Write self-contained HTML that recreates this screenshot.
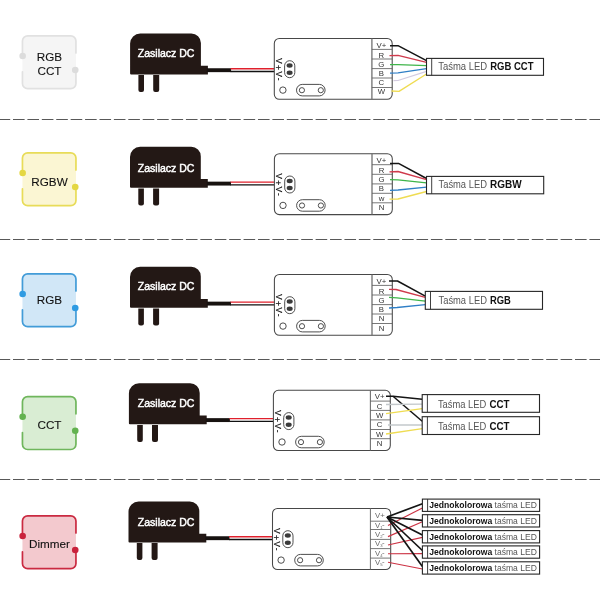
<!DOCTYPE html>
<html><head><meta charset="utf-8"><title>LED controller wiring</title>
<style>html,body{margin:0;padding:0;background:#fff;}svg{display:block;will-change:transform;font-family:'Liberation Sans', sans-serif;}</style>
</head><body>
<svg width="600" height="600" viewBox="0 0 600 600" font-family='"Liberation Sans", sans-serif'>
<rect width="600" height="600" fill="#fff"/>
<line x1="-1.4" y1="119.5" x2="601" y2="119.5" stroke="#585858" stroke-width="1.15" stroke-dasharray="11.6 2.81"/>
<line x1="-1.4" y1="239.5" x2="601" y2="239.5" stroke="#585858" stroke-width="1.15" stroke-dasharray="11.6 2.81"/>
<line x1="-1.4" y1="359.5" x2="601" y2="359.5" stroke="#585858" stroke-width="1.15" stroke-dasharray="11.6 2.81"/>
<line x1="-1.4" y1="479.5" x2="601" y2="479.5" stroke="#585858" stroke-width="1.15" stroke-dasharray="11.6 2.81"/>
<rect x="22.45" y="35.8" width="53.5" height="52.9" rx="5.2" fill="#f5f5f5"/>
<path d="M22.45 56.0 V41.0 A5.2 5.2 0 0 1 27.65 35.8 H70.75 A5.2 5.2 0 0 1 75.95 41.0 V53.0" fill="none" stroke="#e1e1e1" stroke-width="1.7" stroke-linecap="round"/>
<path d="M75.95 70.0 V83.5 A5.2 5.2 0 0 1 70.75 88.7 H27.65 A5.2 5.2 0 0 1 22.45 83.5 V71.8" fill="none" stroke="#e1e1e1" stroke-width="1.7" stroke-linecap="round"/>
<circle cx="22.65" cy="56.0" r="3.3" fill="#dcdcdc"/>
<circle cx="75.25" cy="70.0" r="3.3" fill="#dcdcdc"/>
<text x="49.5" y="60.8" font-size="11.7" text-anchor="middle" fill="#111" stroke="#111" stroke-width="0.1">RGB</text>
<text x="49.5" y="74.9" font-size="11.7" text-anchor="middle" fill="#111" stroke="#111" stroke-width="0.1">CCT</text>
<path d="M130.1 73.4 V43.6 A10.2 10.2 0 0 1 140.3 33.4 H191.3 A9.6 9.6 0 0 1 200.9 43.0 V65.7 H207.9 V74.4 H131.1 A1 1 0 0 1 130.1 73.4 Z" fill="#231815"/>
<path d="M138.4 75.1 V90.0 a2 2 0 0 0 2 2 h1.6 a2 2 0 0 0 2 -2 V75.1 Z" fill="#231815"/>
<path d="M153.2 75.1 V90.0 a2 2 0 0 0 2 2 h2 a2 2 0 0 0 2 -2 V75.1 Z" fill="#231815"/>
<rect x="206.9" y="68.25" width="24.2" height="3.9" fill="#171210"/>
<line x1="230.6" y1="68.75" x2="274.3" y2="68.75" stroke="#e0202c" stroke-width="1.3"/>
<line x1="230.6" y1="71.5" x2="274.3" y2="71.5" stroke="#111" stroke-width="1.4"/>
<text x="137.8" y="57.0" font-size="10.4" fill="#fff" stroke="#fff" stroke-width="0.45" textLength="56.6" lengthAdjust="spacingAndGlyphs">Zasilacz DC</text>
<rect x="274.3" y="38.4" width="117.9" height="60.9" rx="5.0" fill="#fff" stroke="#484848" stroke-width="1.05"/>
<line x1="371.9" y1="38.4" x2="371.9" y2="99.3" stroke="#707070" stroke-width="1.3"/>
<line x1="371.9" y1="49.4" x2="392.2" y2="49.4" stroke="#606060" stroke-width="0.85"/>
<line x1="371.9" y1="59.0" x2="392.2" y2="59.0" stroke="#606060" stroke-width="0.85"/>
<line x1="371.9" y1="68.6" x2="392.2" y2="68.6" stroke="#606060" stroke-width="0.85"/>
<line x1="371.9" y1="78.0" x2="392.2" y2="78.0" stroke="#606060" stroke-width="0.85"/>
<line x1="371.9" y1="87.5" x2="392.2" y2="87.5" stroke="#606060" stroke-width="0.85"/>
<text x="381.35" y="47.6" font-size="7.8" text-anchor="middle" fill="#333">V+</text>
<text x="381.35" y="57.6" font-size="7.8" text-anchor="middle" fill="#333">R</text>
<text x="381.35" y="66.7" font-size="7.8" text-anchor="middle" fill="#333">G</text>
<text x="381.35" y="75.8" font-size="7.8" text-anchor="middle" fill="#333">B</text>
<text x="381.35" y="85.3" font-size="7.8" text-anchor="middle" fill="#333">C</text>
<text x="381.35" y="94.2" font-size="7.8" text-anchor="middle" fill="#333">W</text>
<text transform="translate(276.0 58.0) rotate(90)" font-size="8.6" letter-spacing="1.25" fill="#111" stroke="#111" stroke-width="0.2">V<tspan dy="1">+</tspan><tspan dy="-1">V</tspan>-</text>
<rect x="284.6" y="60.7" width="10.2" height="17" rx="5.1" fill="#fff" stroke="#3a3a3a" stroke-width="0.9"/>
<ellipse cx="289.6" cy="65.6" rx="3.0" ry="2.25" fill="#3a3a3a"/>
<ellipse cx="289.6" cy="72.8" rx="3.0" ry="2.25" fill="#3a3a3a"/>
<circle cx="282.9" cy="90.1" r="3.2" fill="#fff" stroke="#3a3a3a" stroke-width="0.9"/>
<rect x="296.5" y="84.4" width="28.6" height="11.5" rx="5.75" fill="#fff" stroke="#3a3a3a" stroke-width="0.9"/>
<circle cx="301.9" cy="90.2" r="2.6" fill="#fff" stroke="#3a3a3a" stroke-width="0.9"/>
<circle cx="320.8" cy="90.2" r="2.6" fill="#fff" stroke="#3a3a3a" stroke-width="0.9"/>
<path d="M390 45.7 L398 45.7 L426.5 60.7" fill="none" stroke="#141414" stroke-width="1.5" stroke-linejoin="round"/>
<path d="M389.5 55.6 L398 55.4 L426.5 62.3" fill="none" stroke="#cf3a4c" stroke-width="1.35" stroke-linejoin="round"/>
<path d="M390 64.6 L398 64.7 L426.5 65.6" fill="none" stroke="#3fb54a" stroke-width="1.35" stroke-linejoin="round"/>
<path d="M390 73.1 L398 72.8 L426.5 68.7" fill="none" stroke="#2f7fc6" stroke-width="1.35" stroke-linejoin="round"/>
<path d="M393.5 80.6 L398 80.5 L426.5 71.4" fill="none" stroke="#d3cbe0" stroke-width="1.2" stroke-linejoin="round"/>
<path d="M391.5 91.0 L399 91.4 L426.5 74.0" fill="none" stroke="#efdc52" stroke-width="1.35" stroke-linejoin="round"/>
<rect x="426.5" y="58.4" width="117.0" height="16.9" fill="#fff" stroke="#262626" stroke-width="1.1"/>
<line x1="431.7" y1="58.4" x2="431.7" y2="75.3" stroke="#2a2a2a" stroke-width="0.9"/>
<text x="438.2" y="69.9" font-size="10.0" fill="#555" textLength="49.0" lengthAdjust="spacingAndGlyphs">Taśma LED</text>
<text x="490.2" y="69.9" font-size="10.0" font-weight="bold" fill="#111" textLength="43.3" lengthAdjust="spacingAndGlyphs">RGB CCT</text>
<rect x="22.45" y="152.8" width="53.5" height="52.9" rx="5.2" fill="#fbf6d3"/>
<path d="M22.45 173.0 V158.0 A5.2 5.2 0 0 1 27.65 152.8 H70.75 A5.2 5.2 0 0 1 75.95 158.0 V170.0" fill="none" stroke="#e8dc58" stroke-width="1.7" stroke-linecap="round"/>
<path d="M75.95 187.0 V200.5 A5.2 5.2 0 0 1 70.75 205.7 H27.65 A5.2 5.2 0 0 1 22.45 200.5 V188.8" fill="none" stroke="#e8dc58" stroke-width="1.7" stroke-linecap="round"/>
<circle cx="22.65" cy="173.0" r="3.3" fill="#e4d742"/>
<circle cx="75.25" cy="187.0" r="3.3" fill="#e4d742"/>
<text x="49.5" y="186.3" font-size="11.7" text-anchor="middle" fill="#111" stroke="#111" stroke-width="0.1">RGBW</text>
<path d="M130.0 186.8 V157.0 A10.2 10.2 0 0 1 140.2 146.8 H191.2 A9.6 9.6 0 0 1 200.8 156.4 V179.1 H207.8 V187.8 H131.0 A1 1 0 0 1 130.0 186.8 Z" fill="#231815"/>
<path d="M138.3 188.5 V203.4 a2 2 0 0 0 2 2 h1.6 a2 2 0 0 0 2 -2 V188.5 Z" fill="#231815"/>
<path d="M153.1 188.5 V203.4 a2 2 0 0 0 2 2 h2 a2 2 0 0 0 2 -2 V188.5 Z" fill="#231815"/>
<rect x="206.8" y="181.65" width="24.2" height="3.9" fill="#171210"/>
<line x1="230.5" y1="182.15" x2="274.4" y2="182.15" stroke="#e0202c" stroke-width="1.3"/>
<line x1="230.5" y1="184.9" x2="274.4" y2="184.9" stroke="#111" stroke-width="1.4"/>
<text x="137.8" y="172.1" font-size="10.4" fill="#fff" stroke="#fff" stroke-width="0.45" textLength="56.6" lengthAdjust="spacingAndGlyphs">Zasilacz DC</text>
<rect x="274.4" y="153.7" width="117.9" height="60.9" rx="5.0" fill="#fff" stroke="#484848" stroke-width="1.05"/>
<line x1="372" y1="153.7" x2="372" y2="214.6" stroke="#707070" stroke-width="1.3"/>
<line x1="372" y1="164.7" x2="392.3" y2="164.7" stroke="#606060" stroke-width="0.85"/>
<line x1="372" y1="174.3" x2="392.3" y2="174.3" stroke="#606060" stroke-width="0.85"/>
<line x1="372" y1="183.9" x2="392.3" y2="183.9" stroke="#606060" stroke-width="0.85"/>
<line x1="372" y1="193.3" x2="392.3" y2="193.3" stroke="#606060" stroke-width="0.85"/>
<line x1="372" y1="202.8" x2="392.3" y2="202.8" stroke="#606060" stroke-width="0.85"/>
<text x="381.45" y="162.9" font-size="7.8" text-anchor="middle" fill="#333">V+</text>
<text x="381.45" y="172.9" font-size="7.8" text-anchor="middle" fill="#333">R</text>
<text x="381.45" y="182.0" font-size="7.8" text-anchor="middle" fill="#333">G</text>
<text x="381.45" y="190.9" font-size="7.8" text-anchor="middle" fill="#333">B</text>
<text x="381.45" y="200.5" font-size="7.8" text-anchor="middle" fill="#333">w</text>
<text x="381.45" y="210.3" font-size="7.8" text-anchor="middle" fill="#333">N</text>
<text transform="translate(276.1 173.3) rotate(90)" font-size="8.6" letter-spacing="1.25" fill="#111" stroke="#111" stroke-width="0.2">V<tspan dy="1">+</tspan><tspan dy="-1">V</tspan>-</text>
<rect x="284.7" y="176.0" width="10.2" height="17" rx="5.1" fill="#fff" stroke="#3a3a3a" stroke-width="0.9"/>
<ellipse cx="289.7" cy="180.9" rx="3.0" ry="2.25" fill="#3a3a3a"/>
<ellipse cx="289.7" cy="188.1" rx="3.0" ry="2.25" fill="#3a3a3a"/>
<circle cx="283.0" cy="205.4" r="3.2" fill="#fff" stroke="#3a3a3a" stroke-width="0.9"/>
<rect x="296.6" y="199.7" width="28.6" height="11.5" rx="5.75" fill="#fff" stroke="#3a3a3a" stroke-width="0.9"/>
<circle cx="302.0" cy="205.5" r="2.6" fill="#fff" stroke="#3a3a3a" stroke-width="0.9"/>
<circle cx="320.9" cy="205.5" r="2.6" fill="#fff" stroke="#3a3a3a" stroke-width="0.9"/>
<path d="M390 163.4 L398.5 163.4 L426.5 178.5" fill="none" stroke="#141414" stroke-width="1.5" stroke-linejoin="round"/>
<path d="M389.5 171.8 L398 171.5 L426.5 179.6" fill="none" stroke="#cf3a4c" stroke-width="1.35" stroke-linejoin="round"/>
<path d="M390 179.6 L398 179.8 L426.5 182.8" fill="none" stroke="#3fb54a" stroke-width="1.35" stroke-linejoin="round"/>
<path d="M390 190.3 L398 190.0 L426.5 187.2" fill="none" stroke="#2f7fc6" stroke-width="1.35" stroke-linejoin="round"/>
<path d="M389.5 199.2 L398 199.0 L426.5 191.5" fill="none" stroke="#efdc52" stroke-width="1.35" stroke-linejoin="round"/>
<rect x="426.5" y="176.4" width="117.2" height="17.4" fill="#fff" stroke="#262626" stroke-width="1.1"/>
<line x1="431.7" y1="176.4" x2="431.7" y2="193.8" stroke="#2a2a2a" stroke-width="0.9"/>
<text x="438.5" y="188.3" font-size="10.0" fill="#555" textLength="48.4" lengthAdjust="spacingAndGlyphs">Taśma LED</text>
<text x="490.0" y="188.3" font-size="10.0" font-weight="bold" fill="#111" textLength="31.6" lengthAdjust="spacingAndGlyphs">RGBW</text>
<rect x="22.45" y="273.8" width="53.5" height="52.9" rx="5.2" fill="#d1e7f7"/>
<path d="M22.45 294.0 V279.0 A5.2 5.2 0 0 1 27.65 273.8 H70.75 A5.2 5.2 0 0 1 75.95 279.0 V291.0" fill="none" stroke="#429cd8" stroke-width="1.7" stroke-linecap="round"/>
<path d="M75.95 308.0 V321.5 A5.2 5.2 0 0 1 70.75 326.7 H27.65 A5.2 5.2 0 0 1 22.45 321.5 V309.8" fill="none" stroke="#429cd8" stroke-width="1.7" stroke-linecap="round"/>
<circle cx="22.65" cy="294.0" r="3.3" fill="#2f9be2"/>
<circle cx="75.25" cy="308.0" r="3.3" fill="#2f9be2"/>
<text x="49.5" y="304.2" font-size="11.7" text-anchor="middle" fill="#111" stroke="#111" stroke-width="0.1">RGB</text>
<path d="M130.0 306.8 V277.0 A10.2 10.2 0 0 1 140.2 266.8 H191.2 A9.6 9.6 0 0 1 200.8 276.4 V299.1 H207.8 V307.8 H131.0 A1 1 0 0 1 130.0 306.8 Z" fill="#231815"/>
<path d="M138.3 308.5 V323.4 a2 2 0 0 0 2 2 h1.6 a2 2 0 0 0 2 -2 V308.5 Z" fill="#231815"/>
<path d="M153.1 308.5 V323.4 a2 2 0 0 0 2 2 h2 a2 2 0 0 0 2 -2 V308.5 Z" fill="#231815"/>
<rect x="206.8" y="301.65" width="24.2" height="3.9" fill="#171210"/>
<line x1="230.5" y1="302.15" x2="277.5" y2="302.15" stroke="#e0202c" stroke-width="1.3"/>
<line x1="230.5" y1="304.9" x2="277.5" y2="304.9" stroke="#111" stroke-width="1.4"/>
<text x="137.8" y="290.2" font-size="10.4" fill="#fff" stroke="#fff" stroke-width="0.45" textLength="56.6" lengthAdjust="spacingAndGlyphs">Zasilacz DC</text>
<rect x="274.4" y="274.4" width="117.9" height="60.9" rx="5.0" fill="#fff" stroke="#484848" stroke-width="1.05"/>
<line x1="372" y1="274.4" x2="372" y2="335.3" stroke="#707070" stroke-width="1.3"/>
<line x1="372" y1="285.4" x2="392.3" y2="285.4" stroke="#606060" stroke-width="0.85"/>
<line x1="372" y1="295.0" x2="392.3" y2="295.0" stroke="#606060" stroke-width="0.85"/>
<line x1="372" y1="304.6" x2="392.3" y2="304.6" stroke="#606060" stroke-width="0.85"/>
<line x1="372" y1="314.0" x2="392.3" y2="314.0" stroke="#606060" stroke-width="0.85"/>
<line x1="372" y1="323.5" x2="392.3" y2="323.5" stroke="#606060" stroke-width="0.85"/>
<text x="381.45" y="283.6" font-size="7.8" text-anchor="middle" fill="#333">V+</text>
<text x="381.45" y="293.6" font-size="7.8" text-anchor="middle" fill="#333">R</text>
<text x="381.45" y="302.7" font-size="7.8" text-anchor="middle" fill="#333">G</text>
<text x="381.45" y="311.6" font-size="7.8" text-anchor="middle" fill="#333">B</text>
<text x="381.45" y="321.2" font-size="7.8" text-anchor="middle" fill="#333">N</text>
<text x="381.45" y="330.6" font-size="7.8" text-anchor="middle" fill="#333">N</text>
<text transform="translate(276.1 294.0) rotate(90)" font-size="8.6" letter-spacing="1.25" fill="#111" stroke="#111" stroke-width="0.2">V<tspan dy="1">+</tspan><tspan dy="-1">V</tspan>-</text>
<rect x="284.7" y="296.7" width="10.2" height="17" rx="5.1" fill="#fff" stroke="#3a3a3a" stroke-width="0.9"/>
<ellipse cx="289.7" cy="301.6" rx="3.0" ry="2.25" fill="#3a3a3a"/>
<ellipse cx="289.7" cy="308.8" rx="3.0" ry="2.25" fill="#3a3a3a"/>
<circle cx="283.0" cy="326.1" r="3.2" fill="#fff" stroke="#3a3a3a" stroke-width="0.9"/>
<rect x="296.6" y="320.4" width="28.6" height="11.5" rx="5.75" fill="#fff" stroke="#3a3a3a" stroke-width="0.9"/>
<circle cx="302.0" cy="326.2" r="2.6" fill="#fff" stroke="#3a3a3a" stroke-width="0.9"/>
<circle cx="320.9" cy="326.2" r="2.6" fill="#fff" stroke="#3a3a3a" stroke-width="0.9"/>
<path d="M389 281.0 L397.5 281.0 L425.3 296.1" fill="none" stroke="#141414" stroke-width="1.5" stroke-linejoin="round"/>
<path d="M389 289.4 L396 289.5 L425.3 297.4" fill="none" stroke="#cf3a4c" stroke-width="1.35" stroke-linejoin="round"/>
<path d="M389 297.3 L397 297.8 L425.3 301.1" fill="none" stroke="#3fb54a" stroke-width="1.35" stroke-linejoin="round"/>
<path d="M389 308.0 L397 307.5 L425.3 304.7" fill="none" stroke="#2f7fc6" stroke-width="1.35" stroke-linejoin="round"/>
<rect x="425.3" y="291.4" width="117.2" height="17.9" fill="#fff" stroke="#262626" stroke-width="1.1"/>
<line x1="430.5" y1="291.4" x2="430.5" y2="309.3" stroke="#2a2a2a" stroke-width="0.9"/>
<text x="438.5" y="303.8" font-size="10.0" fill="#555" textLength="48.4" lengthAdjust="spacingAndGlyphs">Taśma LED</text>
<text x="490.0" y="303.8" font-size="10.0" font-weight="bold" fill="#111" textLength="20.9" lengthAdjust="spacingAndGlyphs">RGB</text>
<rect x="22.45" y="396.6" width="53.5" height="52.9" rx="5.2" fill="#d9edd3"/>
<path d="M22.45 416.8 V401.8 A5.2 5.2 0 0 1 27.65 396.6 H70.75 A5.2 5.2 0 0 1 75.95 401.8 V413.8" fill="none" stroke="#6fb65c" stroke-width="1.7" stroke-linecap="round"/>
<path d="M75.95 430.8 V444.3 A5.2 5.2 0 0 1 70.75 449.5 H27.65 A5.2 5.2 0 0 1 22.45 444.3 V432.6" fill="none" stroke="#6fb65c" stroke-width="1.7" stroke-linecap="round"/>
<circle cx="22.65" cy="416.8" r="3.3" fill="#63b250"/>
<circle cx="75.25" cy="430.8" r="3.3" fill="#63b250"/>
<text x="49.5" y="428.5" font-size="11.7" text-anchor="middle" fill="#111" stroke="#111" stroke-width="0.1">CCT</text>
<path d="M128.9 423.3 V393.5 A10.2 10.2 0 0 1 139.1 383.3 H190.1 A9.6 9.6 0 0 1 199.7 392.9 V415.6 H206.7 V424.3 H129.9 A1 1 0 0 1 128.9 423.3 Z" fill="#231815"/>
<path d="M137.2 425.0 V439.9 a2 2 0 0 0 2 2 h1.6 a2 2 0 0 0 2 -2 V425.0 Z" fill="#231815"/>
<path d="M152.0 425.0 V439.9 a2 2 0 0 0 2 2 h2 a2 2 0 0 0 2 -2 V425.0 Z" fill="#231815"/>
<rect x="205.7" y="418.15" width="24.2" height="3.9" fill="#171210"/>
<line x1="229.4" y1="418.65" x2="273.0" y2="418.65" stroke="#e0202c" stroke-width="1.3"/>
<line x1="229.4" y1="421.4" x2="273.0" y2="421.4" stroke="#111" stroke-width="1.4"/>
<text x="137.8" y="407.4" font-size="10.4" fill="#fff" stroke="#fff" stroke-width="0.45" textLength="56.6" lengthAdjust="spacingAndGlyphs">Zasilacz DC</text>
<rect x="273.4" y="390.3" width="116.9" height="60.2" rx="5.0" fill="#fff" stroke="#484848" stroke-width="1.05"/>
<line x1="370.4" y1="390.3" x2="370.4" y2="450.5" stroke="#707070" stroke-width="1.1"/>
<line x1="370.4" y1="401.1" x2="390.3" y2="401.1" stroke="#606060" stroke-width="0.85"/>
<line x1="370.4" y1="410.4" x2="390.3" y2="410.4" stroke="#606060" stroke-width="0.85"/>
<line x1="370.4" y1="419.9" x2="390.3" y2="419.9" stroke="#606060" stroke-width="0.85"/>
<line x1="370.4" y1="429.5" x2="390.3" y2="429.5" stroke="#606060" stroke-width="0.85"/>
<line x1="370.4" y1="438.7" x2="390.3" y2="438.7" stroke="#606060" stroke-width="0.85"/>
<text x="379.65" y="398.9" font-size="7.8" text-anchor="middle" fill="#333">V+</text>
<text x="379.65" y="408.8" font-size="7.8" text-anchor="middle" fill="#333">C</text>
<text x="379.65" y="417.8" font-size="7.8" text-anchor="middle" fill="#333">W</text>
<text x="379.65" y="427.0" font-size="7.8" text-anchor="middle" fill="#333">C</text>
<text x="379.65" y="436.7" font-size="7.8" text-anchor="middle" fill="#333">W</text>
<text x="379.65" y="446.4" font-size="7.8" text-anchor="middle" fill="#333">N</text>
<text transform="translate(275.1 409.9) rotate(90)" font-size="8.6" letter-spacing="1.25" fill="#111" stroke="#111" stroke-width="0.2">V<tspan dy="1">+</tspan><tspan dy="-1">V</tspan>-</text>
<rect x="283.7" y="412.6" width="10.2" height="17" rx="5.1" fill="#fff" stroke="#3a3a3a" stroke-width="0.9"/>
<ellipse cx="288.7" cy="417.5" rx="3.0" ry="2.25" fill="#3a3a3a"/>
<ellipse cx="288.7" cy="424.7" rx="3.0" ry="2.25" fill="#3a3a3a"/>
<circle cx="282.0" cy="442.0" r="3.2" fill="#fff" stroke="#3a3a3a" stroke-width="0.9"/>
<rect x="295.6" y="436.3" width="28.6" height="11.5" rx="5.75" fill="#fff" stroke="#3a3a3a" stroke-width="0.9"/>
<circle cx="301.0" cy="442.1" r="2.6" fill="#fff" stroke="#3a3a3a" stroke-width="0.9"/>
<circle cx="319.9" cy="442.1" r="2.6" fill="#fff" stroke="#3a3a3a" stroke-width="0.9"/>
<path d="M386 396.3 L393 396.3 L422.2 399.2" fill="none" stroke="#141414" stroke-width="1.5" stroke-linejoin="round"/>
<path d="M393 396.3 L422.2 421.3" fill="none" stroke="#141414" stroke-width="1.5" stroke-linejoin="round"/>
<path d="M386 404.5 L422.2 404.1" fill="none" stroke="#c3c8cb" stroke-width="1.4" stroke-linejoin="round"/>
<path d="M386 413.6 L422.2 408.7" fill="none" stroke="#efdc52" stroke-width="1.35" stroke-linejoin="round"/>
<path d="M388 425.0 L422.2 425.0" fill="none" stroke="#c3c8cb" stroke-width="1.4" stroke-linejoin="round"/>
<path d="M386 434.0 L422.2 428.7" fill="none" stroke="#efdc52" stroke-width="1.35" stroke-linejoin="round"/>
<rect x="422.2" y="394.6" width="117.3" height="17.7" fill="#fff" stroke="#262626" stroke-width="1.1"/>
<line x1="427.4" y1="394.6" x2="427.4" y2="412.3" stroke="#2a2a2a" stroke-width="0.9"/>
<text x="437.9" y="408.0" font-size="10.0" fill="#555" textLength="48.4" lengthAdjust="spacingAndGlyphs">Taśma LED</text>
<text x="489.4" y="408.0" font-size="10.0" font-weight="bold" fill="#111" textLength="20.1" lengthAdjust="spacingAndGlyphs">CCT</text>
<rect x="422.2" y="416.7" width="117.3" height="17.8" fill="#fff" stroke="#262626" stroke-width="1.1"/>
<line x1="427.4" y1="416.7" x2="427.4" y2="434.5" stroke="#2a2a2a" stroke-width="0.9"/>
<text x="437.9" y="430.2" font-size="10.0" fill="#555" textLength="48.4" lengthAdjust="spacingAndGlyphs">Taśma LED</text>
<text x="489.4" y="430.2" font-size="10.0" font-weight="bold" fill="#111" textLength="20.1" lengthAdjust="spacingAndGlyphs">CCT</text>
<rect x="22.45" y="515.8" width="53.5" height="52.9" rx="5.2" fill="#f3c9ce"/>
<path d="M22.45 536.0 V521.0 A5.2 5.2 0 0 1 27.65 515.8 H70.75 A5.2 5.2 0 0 1 75.95 521.0 V533.0" fill="none" stroke="#ca2a41" stroke-width="1.7" stroke-linecap="round"/>
<path d="M75.95 550.0 V563.5 A5.2 5.2 0 0 1 70.75 568.7 H27.65 A5.2 5.2 0 0 1 22.45 563.5 V551.8" fill="none" stroke="#ca2a41" stroke-width="1.7" stroke-linecap="round"/>
<circle cx="22.65" cy="536.0" r="3.3" fill="#c9223c"/>
<circle cx="75.25" cy="550.0" r="3.3" fill="#c9223c"/>
<text x="49.5" y="548.1" font-size="11.7" text-anchor="middle" fill="#111" stroke="#111" stroke-width="0.1">Dimmer</text>
<path d="M128.5 541.4 V511.6 A10.2 10.2 0 0 1 138.7 501.4 H189.7 A9.6 9.6 0 0 1 199.3 511.0 V533.7 H206.3 V542.4 H129.5 A1 1 0 0 1 128.5 541.4 Z" fill="#231815"/>
<path d="M136.8 543.1 V558.0 a2 2 0 0 0 2 2 h1.6 a2 2 0 0 0 2 -2 V543.1 Z" fill="#231815"/>
<path d="M151.6 543.1 V558.0 a2 2 0 0 0 2 2 h2 a2 2 0 0 0 2 -2 V543.1 Z" fill="#231815"/>
<rect x="205.3" y="536.25" width="24.2" height="3.9" fill="#171210"/>
<line x1="229.0" y1="536.75" x2="272.7" y2="536.75" stroke="#e0202c" stroke-width="1.3"/>
<line x1="229.0" y1="539.5" x2="272.7" y2="539.5" stroke="#111" stroke-width="1.4"/>
<text x="137.8" y="526.4" font-size="10.4" fill="#fff" stroke="#fff" stroke-width="0.45" textLength="56.6" lengthAdjust="spacingAndGlyphs">Zasilacz DC</text>
<rect x="272.5" y="508.4" width="118.2" height="61.1" rx="5.0" fill="#fff" stroke="#484848" stroke-width="1.05"/>
<line x1="370.4" y1="508.4" x2="370.4" y2="569.5" stroke="#707070" stroke-width="1.0"/>
<line x1="370.4" y1="521.2" x2="390.7" y2="521.2" stroke="#606060" stroke-width="0.85"/>
<line x1="370.4" y1="529.5" x2="390.7" y2="529.5" stroke="#606060" stroke-width="0.85"/>
<line x1="370.4" y1="539.4" x2="390.7" y2="539.4" stroke="#606060" stroke-width="0.85"/>
<line x1="370.4" y1="548.6" x2="390.7" y2="548.6" stroke="#606060" stroke-width="0.85"/>
<line x1="370.4" y1="558.1" x2="390.7" y2="558.1" stroke="#606060" stroke-width="0.85"/>
<text x="379.85" y="517.9" font-size="7.8" text-anchor="middle" fill="#6a6a6a">V+</text>
<text x="379.85" y="527.9" font-size="7.8" text-anchor="middle" fill="#6a6a6a">V<tspan font-size="4.2" dy="1.0">1</tspan><tspan dy="-1.6" dx="-0.6">-</tspan></text>
<text x="379.85" y="536.9" font-size="7.8" text-anchor="middle" fill="#6a6a6a">V<tspan font-size="4.2" dy="1.0">2</tspan><tspan dy="-1.6" dx="-0.6">-</tspan></text>
<text x="379.85" y="546.0" font-size="7.8" text-anchor="middle" fill="#6a6a6a">V<tspan font-size="4.2" dy="1.0">3</tspan><tspan dy="-1.6" dx="-0.6">-</tspan></text>
<text x="379.85" y="555.8" font-size="7.8" text-anchor="middle" fill="#6a6a6a">V<tspan font-size="4.2" dy="1.0">4</tspan><tspan dy="-1.6" dx="-0.6">-</tspan></text>
<text x="379.85" y="564.8" font-size="7.8" text-anchor="middle" fill="#6a6a6a">V<tspan font-size="4.2" dy="1.0">5</tspan><tspan dy="-1.6" dx="-0.6">-</tspan></text>
<text transform="translate(274.2 528.0) rotate(90)" font-size="8.6" letter-spacing="1.25" fill="#111" stroke="#111" stroke-width="0.2">V<tspan dy="1">+</tspan><tspan dy="-1">V</tspan>-</text>
<rect x="282.8" y="530.7" width="10.2" height="17" rx="5.1" fill="#fff" stroke="#3a3a3a" stroke-width="0.9"/>
<ellipse cx="287.8" cy="535.6" rx="3.0" ry="2.25" fill="#3a3a3a"/>
<ellipse cx="287.8" cy="542.8" rx="3.0" ry="2.25" fill="#3a3a3a"/>
<circle cx="281.1" cy="560.1" r="3.2" fill="#fff" stroke="#3a3a3a" stroke-width="0.9"/>
<rect x="294.7" y="554.4" width="28.6" height="11.5" rx="5.75" fill="#fff" stroke="#3a3a3a" stroke-width="0.9"/>
<circle cx="300.1" cy="560.2" r="2.6" fill="#fff" stroke="#3a3a3a" stroke-width="0.9"/>
<circle cx="319.0" cy="560.2" r="2.6" fill="#fff" stroke="#3a3a3a" stroke-width="0.9"/>
<path d="M388 525.4 L422.4 508.0" fill="none" stroke="#cc3344" stroke-width="1.15" stroke-linejoin="round"/>
<path d="M388 536.6 L422.4 521.7" fill="none" stroke="#cc3344" stroke-width="1.15" stroke-linejoin="round"/>
<path d="M388 545.0 L422.4 537.4" fill="none" stroke="#cc3344" stroke-width="1.15" stroke-linejoin="round"/>
<path d="M388 553.7 L422.4 553.6" fill="none" stroke="#cc3344" stroke-width="1.15" stroke-linejoin="round"/>
<path d="M388 562.3 L422.4 569.0" fill="none" stroke="#cc3344" stroke-width="1.15" stroke-linejoin="round"/>
<path d="M387 517.0 L422.4 503.7" fill="none" stroke="#141414" stroke-width="1.7" stroke-linejoin="round"/>
<path d="M387 517.0 L422.4 520.3" fill="none" stroke="#141414" stroke-width="1.7" stroke-linejoin="round"/>
<path d="M387 517.0 L422.4 535.0" fill="none" stroke="#141414" stroke-width="1.7" stroke-linejoin="round"/>
<path d="M387 517.0 L422.4 550.5" fill="none" stroke="#141414" stroke-width="1.7" stroke-linejoin="round"/>
<path d="M387 517.0 L422.4 566.5" fill="none" stroke="#141414" stroke-width="1.7" stroke-linejoin="round"/>
<rect x="422.4" y="499.1" width="117.2" height="12.3" fill="#fff" stroke="#262626" stroke-width="1.1"/>
<line x1="427.6" y1="499.1" x2="427.6" y2="511.4" stroke="#2a2a2a" stroke-width="0.9"/>
<text x="429.3" y="508.2" font-size="9.9" font-weight="bold" fill="#111" textLength="63.0" lengthAdjust="spacingAndGlyphs">Jednokolorowa</text>
<text x="494.6" y="508.2" font-size="9.9" fill="#555" textLength="42.3" lengthAdjust="spacingAndGlyphs">taśma LED</text>
<rect x="422.4" y="514.7" width="117.2" height="12.3" fill="#fff" stroke="#262626" stroke-width="1.1"/>
<line x1="427.6" y1="514.7" x2="427.6" y2="527.0" stroke="#2a2a2a" stroke-width="0.9"/>
<text x="429.3" y="523.8" font-size="9.9" font-weight="bold" fill="#111" textLength="63.0" lengthAdjust="spacingAndGlyphs">Jednokolorowa</text>
<text x="494.6" y="523.8" font-size="9.9" fill="#555" textLength="42.3" lengthAdjust="spacingAndGlyphs">taśma LED</text>
<rect x="422.4" y="530.6" width="117.2" height="12.3" fill="#fff" stroke="#262626" stroke-width="1.1"/>
<line x1="427.6" y1="530.6" x2="427.6" y2="542.9" stroke="#2a2a2a" stroke-width="0.9"/>
<text x="429.3" y="539.7" font-size="9.9" font-weight="bold" fill="#111" textLength="63.0" lengthAdjust="spacingAndGlyphs">Jednokolorowa</text>
<text x="494.6" y="539.7" font-size="9.9" fill="#555" textLength="42.3" lengthAdjust="spacingAndGlyphs">taśma LED</text>
<rect x="422.4" y="545.9" width="117.2" height="12.3" fill="#fff" stroke="#262626" stroke-width="1.1"/>
<line x1="427.6" y1="545.9" x2="427.6" y2="558.2" stroke="#2a2a2a" stroke-width="0.9"/>
<text x="429.3" y="555.0" font-size="9.9" font-weight="bold" fill="#111" textLength="63.0" lengthAdjust="spacingAndGlyphs">Jednokolorowa</text>
<text x="494.6" y="555.0" font-size="9.9" fill="#555" textLength="42.3" lengthAdjust="spacingAndGlyphs">taśma LED</text>
<rect x="422.4" y="561.8" width="117.2" height="12.3" fill="#fff" stroke="#262626" stroke-width="1.1"/>
<line x1="427.6" y1="561.8" x2="427.6" y2="574.1" stroke="#2a2a2a" stroke-width="0.9"/>
<text x="429.3" y="570.9" font-size="9.9" font-weight="bold" fill="#111" textLength="63.0" lengthAdjust="spacingAndGlyphs">Jednokolorowa</text>
<text x="494.6" y="570.9" font-size="9.9" fill="#555" textLength="42.3" lengthAdjust="spacingAndGlyphs">taśma LED</text>
</svg>
</body></html>
